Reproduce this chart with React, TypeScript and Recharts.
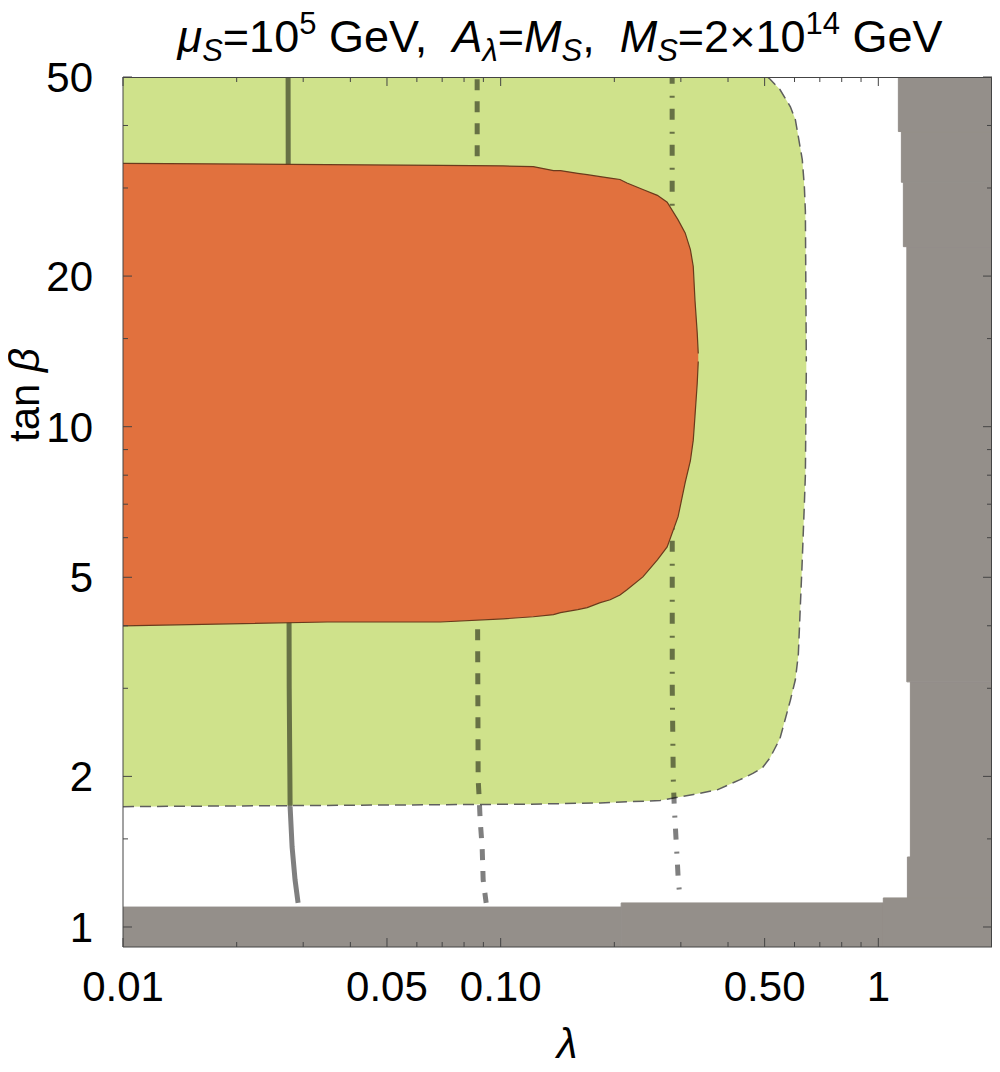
import React from 'react';
import { ComposedChart, XAxis, YAxis, Area, Scatter, ReferenceArea, ReferenceLine } from 'recharts';

const FONT = '"Liberation Sans", Arial, Helvetica, sans-serif';
const FRAME = '#444444';
const GREEN = '#cfe28b';
const ORANGE = '#e1713e';
const GRAY = '#948f8a';

// axis ticks
const xMajor = [0.01, 0.05, 0.1, 0.5, 1];
const xMajorLabels = ['0.01', '0.05', '0.10', '0.50', '1'];
const xMinor = [0.02, 0.03, 0.04, 0.06, 0.07, 0.08, 0.09, 0.2, 0.3, 0.4, 0.6, 0.7, 0.8, 0.9];
const yMajor = [1, 2, 5, 10, 20, 50];
const yMajorLabels = ['1', '2', '5', '10', '20', '50'];
const yMinor = [1.5, 3, 4, 6, 7, 8, 9, 15, 30, 40];

// orange region (lambda, lower tan beta, upper tan beta)
const orangeLambda = [0.01, 0.0347, 0.0692, 0.1016, 0.122, 0.138, 0.144, 0.16, 0.1695, 0.1835, 0.195, 0.207, 0.216, 0.238, 0.26, 0.276, 0.295, 0.308, 0.318, 0.3236, 0.327, 0.3315, 0.3336];
const orangeLow = [4.0, 4.07, 4.07, 4.13, 4.17, 4.21, 4.25, 4.31, 4.35, 4.45, 4.51, 4.61, 4.72, 5.01, 5.42, 5.75, 6.61, 7.73, 8.55, 9.4, 10.5, 12.2, 13.5];
const orangeHigh = [33.6, 33.4, 33.3, 33.2, 33.1, 32.5, 32.5, 32.1, 31.9, 31.6, 31.4, 31.2, 30.7, 29.8, 29.0, 28.1, 25.9, 24.4, 22.6, 20.9, 17.9, 15.4, 14.0];

// green region (extends slightly above the frame top)
const greenLambda = [0.01, 0.12, 0.1835, 0.2645, 0.324, 0.3746, 0.4305, 0.4667, 0.493, 0.517, 0.549, 0.585, 0.603, 0.614, 0.629, 0.637, 0.641, 0.6447];
const greenLow = [1.74, 1.76, 1.77, 1.79, 1.84, 1.88, 1.97, 2.03, 2.08, 2.18, 2.38, 2.84, 3.12, 3.5, 5.42, 7.0, 8.0, 13.0];
const greenHigh = [51, 51, 51, 51, 51, 51, 51, 51, 51, 49.5, 47.2, 43.6, 41.1, 38.0, 34.2, 30.2, 27.0, 13.5];

// contour lines (lambda, tan beta)
const solidLambda = [0.02736, 0.02745, 0.02755, 0.0277, 0.02804, 0.02855, 0.02908];
const solidTb = [51, 10, 3, 1.74, 1.445, 1.242, 1.117];
const dashedLambda = [0.08665, 0.0868, 0.08718, 0.0877, 0.08825, 0.08933, 0.08988, 0.09154];
const dashedTb = [49.5, 5, 1.97, 1.82, 1.637, 1.445, 1.242, 1.117];
const dashDotLambda = [0.2845, 0.2847, 0.2865, 0.2882, 0.29, 0.2917, 0.2935, 0.2953, 0.2989];
const dashDotTb = [51, 3, 1.97, 1.74, 1.6, 1.472, 1.361, 1.242, 1.132];

// gray excluded blocks: lambda1, lambda2, tanb1, tanb2
const grayL1 = [0.01, 0.2085, 1.031, 1.194, 1.216, 1.19, 1.165, 1.151, 1.13];
const grayL2 = [0.2085, 1.031, 2, 2, 2, 2, 2, 2, 2];
const grayT1 = [0.912, 0.912, 0.912, 1.143, 1.38, 3.09, 22.9, 30.8, 38.9];
const grayT2 = [1.096, 1.117, 1.143, 1.38, 3.09, 22.9, 30.8, 38.9, 50];

const X_DOMAIN = [0.01, 2];
const Y_DOMAIN = [0.912, 50];

const allLambda = Array.from(new Set([...orangeLambda, ...greenLambda])).sort((a, b) => a - b);
const chartData = allLambda.map((x) => {
  const oi = orangeLambda.indexOf(x);
  const gi = greenLambda.indexOf(x);
  return {
    x,
    orange: oi >= 0 ? [orangeLow[oi], orangeHigh[oi]] : null,
    green: gi >= 0 ? [greenLow[gi], greenHigh[gi]] : null,
  };
});

const toPts = (xs: number[], ys: number[]) => xs.map((x, i) => ({ x, y: ys[i] }));
const solidData = toPts(solidLambda, solidTb);
const dashedData = toPts(dashedLambda, dashedTb);
const dashDotData = toPts(dashDotLambda, dashDotTb);

const xTicks = [...xMajor, ...xMinor].sort((a, b) => a - b);
const yTicks = [...yMajor, ...yMinor].sort((a, b) => a - b);

const MAJ = 9;
const MIN = 5;

// layout of the plotting box inside the svg
const W = 984;
const H = 1060;
const M_TOP = 69;
const Y_AXIS_W = 115;
const X_AXIS_H = 121;

const BottomTick = (props: any) => {
  const { x, y, payload } = props;
  const idx = xMajor.indexOf(payload.value);
  const major = idx >= 0;
  return (
    <g>
      <line x1={x} x2={x} y1={y} y2={y - (major ? MAJ : MIN)} stroke={FRAME} strokeWidth={1} />
      {major && (
        <text x={x} y={y + 54} textAnchor="middle" fontSize={42} fontFamily={FONT} fill="#000">
          {xMajorLabels[idx]}
        </text>
      )}
    </g>
  );
};

const LeftTick = (props: any) => {
  const { x, y, payload } = props;
  const idx = yMajor.indexOf(payload.value);
  const major = idx >= 0;
  return (
    <g>
      <line x1={x} x2={x + (major ? MAJ : MIN)} y1={y} y2={y} stroke={FRAME} strokeWidth={1} />
      {major && (
        <text x={x - 30} y={y + 15} textAnchor="end" fontSize={42} fontFamily={FONT} fill="#000">
          {yMajorLabels[idx]}
        </text>
      )}
    </g>
  );
};

// top frame tick: a short piece of a vertical reference line, hanging from the top edge
const topTickShape = (len: number) => (p: any) => {
  const top = Math.min(Number(p.y1), Number(p.y2));
  return <line x1={p.x1} x2={p.x1} y1={top} y2={top + len} stroke={FRAME} strokeWidth={1} />;
};
// right frame tick: a short piece of a horizontal reference line, from the right edge
const rightTickShape = (len: number) => (p: any) => {
  const right = Math.max(Number(p.x1), Number(p.x2));
  return <line x1={right} x2={right - len} y1={p.y1} y2={p.y1} stroke={FRAME} strokeWidth={1} />;
};

const noShape = () => <g />;
const LINE_COLOR = '#000000';
const LW = 5;

export default function App() {
  return (
    <div style={{ position: 'relative', width: W, height: H }}>
      <ComposedChart width={W} height={H} data={chartData} margin={{ top: M_TOP, right: 0, bottom: 0, left: 0 }}>
        {grayL1.map((l1, i) => (
          <ReferenceArea
            key={'g' + i}
            x1={l1}
            x2={grayL2[i]}
            y1={grayT1[i]}
            y2={grayT2[i]}
            fill={GRAY}
            fillOpacity={1}
            stroke={GRAY}
            strokeWidth={1}
            ifOverflow="hidden"
          />
        ))}
        <Area
          dataKey="green"
          type="linear"
          fill={GREEN}
          fillOpacity={1}
          stroke="#5e5e5e"
          strokeWidth={1.5}
          strokeDasharray="11 6"
          connectNulls
          dot={false}
          activeDot={false}
          isAnimationActive={false}
          zIndex={100}
        />
        <Scatter
          data={solidData}
          dataKey="y"
          fill="none"
          shape={noShape}
          line={{ stroke: LINE_COLOR, strokeOpacity: 0.5, strokeWidth: LW }}
          lineType="joint"
          isAnimationActive={false}
          zIndex={200}
        />
        <Scatter
          data={dashedData}
          dataKey="y"
          fill="none"
          shape={noShape}
          line={{ stroke: LINE_COLOR, strokeOpacity: 0.5, strokeWidth: LW, strokeDasharray: '11 11' }}
          lineType="joint"
          isAnimationActive={false}
          zIndex={200}
        />
        <Scatter
          data={dashDotData}
          dataKey="y"
          fill="none"
          shape={noShape}
          line={{ stroke: LINE_COLOR, strokeOpacity: 0.5, strokeWidth: LW, strokeDasharray: '11 12 2 11' }}
          lineType="joint"
          isAnimationActive={false}
          zIndex={200}
        />
        <Area
          dataKey="orange"
          type="linear"
          fill={ORANGE}
          fillOpacity={1}
          stroke="#6a3a1c"
          strokeWidth={1.2}
          connectNulls
          dot={false}
          activeDot={false}
          isAnimationActive={false}
          zIndex={300}
        />
        {xTicks.map((v) => (
          <ReferenceLine
            key={'tt' + v}
            x={v}
            stroke={FRAME}
            ifOverflow="visible"
            shape={topTickShape(xMajor.indexOf(v) >= 0 ? MAJ : MIN)}
          />
        ))}
        {yTicks.map((v) => (
          <ReferenceLine
            key={'rt' + v}
            y={v}
            stroke={FRAME}
            ifOverflow="visible"
            shape={rightTickShape(yMajor.indexOf(v) >= 0 ? MAJ : MIN)}
          />
        ))}
        <XAxis
          dataKey="x"
          type="number"
          scale="log"
          domain={X_DOMAIN}
          allowDataOverflow
          ticks={xTicks}
          interval={0}
          height={X_AXIS_H}
          tickSize={0}
          tickMargin={0}
          tickLine={false}
          axisLine={{ stroke: FRAME }}
          tick={(p: any) => <BottomTick {...p} />}
        />
        <YAxis
          type="number"
          scale="log"
          domain={Y_DOMAIN}
          allowDataOverflow
          ticks={yTicks}
          interval={0}
          width={Y_AXIS_W}
          tickSize={0}
          tickMargin={0}
          tickLine={false}
          axisLine={{ stroke: FRAME }}
          tick={(p: any) => <LeftTick {...p} />}
        />
      </ComposedChart>
      <svg
        width={W}
        height={H}
        style={{ position: 'absolute', left: 0, top: 0, pointerEvents: 'none', overflow: 'visible' }}
      >
        {/* plot frame border (top and right edges of the box) */}
        <polyline
          points={`${Y_AXIS_W},${M_TOP + 0.5} ${W - 0.5},${M_TOP + 0.5} ${W - 0.5},${H - X_AXIS_H}`}
          fill="none"
          stroke={FRAME}
          strokeWidth={1}
        />
        <text x={552} y={44} textAnchor="middle" fontFamily={FONT} fontSize={45} fill="#000" style={{ whiteSpace: 'pre' }}>
          <tspan fontStyle="italic">μ</tspan>
          <tspan fontStyle="italic" fontSize={31} dy={9}>S</tspan>
          <tspan dy={-9}>=10</tspan>
          <tspan fontSize={31} dy={-18}>5</tspan>
          <tspan dy={18}> GeV,  </tspan>
          <tspan fontStyle="italic">A</tspan>
          <tspan fontStyle="italic" fontSize={31} dy={9}>λ</tspan>
          <tspan dy={-9}>=</tspan>
          <tspan fontStyle="italic">M</tspan>
          <tspan fontStyle="italic" fontSize={31} dy={9}>S</tspan>
          <tspan dy={-9}>,  </tspan>
          <tspan fontStyle="italic">M</tspan>
          <tspan fontStyle="italic" fontSize={31} dy={9}>S</tspan>
          <tspan dy={-9}>=2×10</tspan>
          <tspan fontSize={31} dy={-18}>14</tspan>
          <tspan dy={18}> GeV</tspan>
        </text>
        <text x={559} y={1050} textAnchor="middle" fontFamily={FONT} fontSize={42} fontStyle="italic" fill="#000">
          λ
        </text>
        <text
          x={31}
          y={387}
          textAnchor="middle"
          fontFamily={FONT}
          fontSize={42}
          fill="#000"
          transform="rotate(-90, 31, 387)"
          style={{ whiteSpace: 'pre' }}
        >
          <tspan>tan </tspan>
          <tspan fontStyle="italic">β</tspan>
        </text>
      </svg>
    </div>
  );
}
